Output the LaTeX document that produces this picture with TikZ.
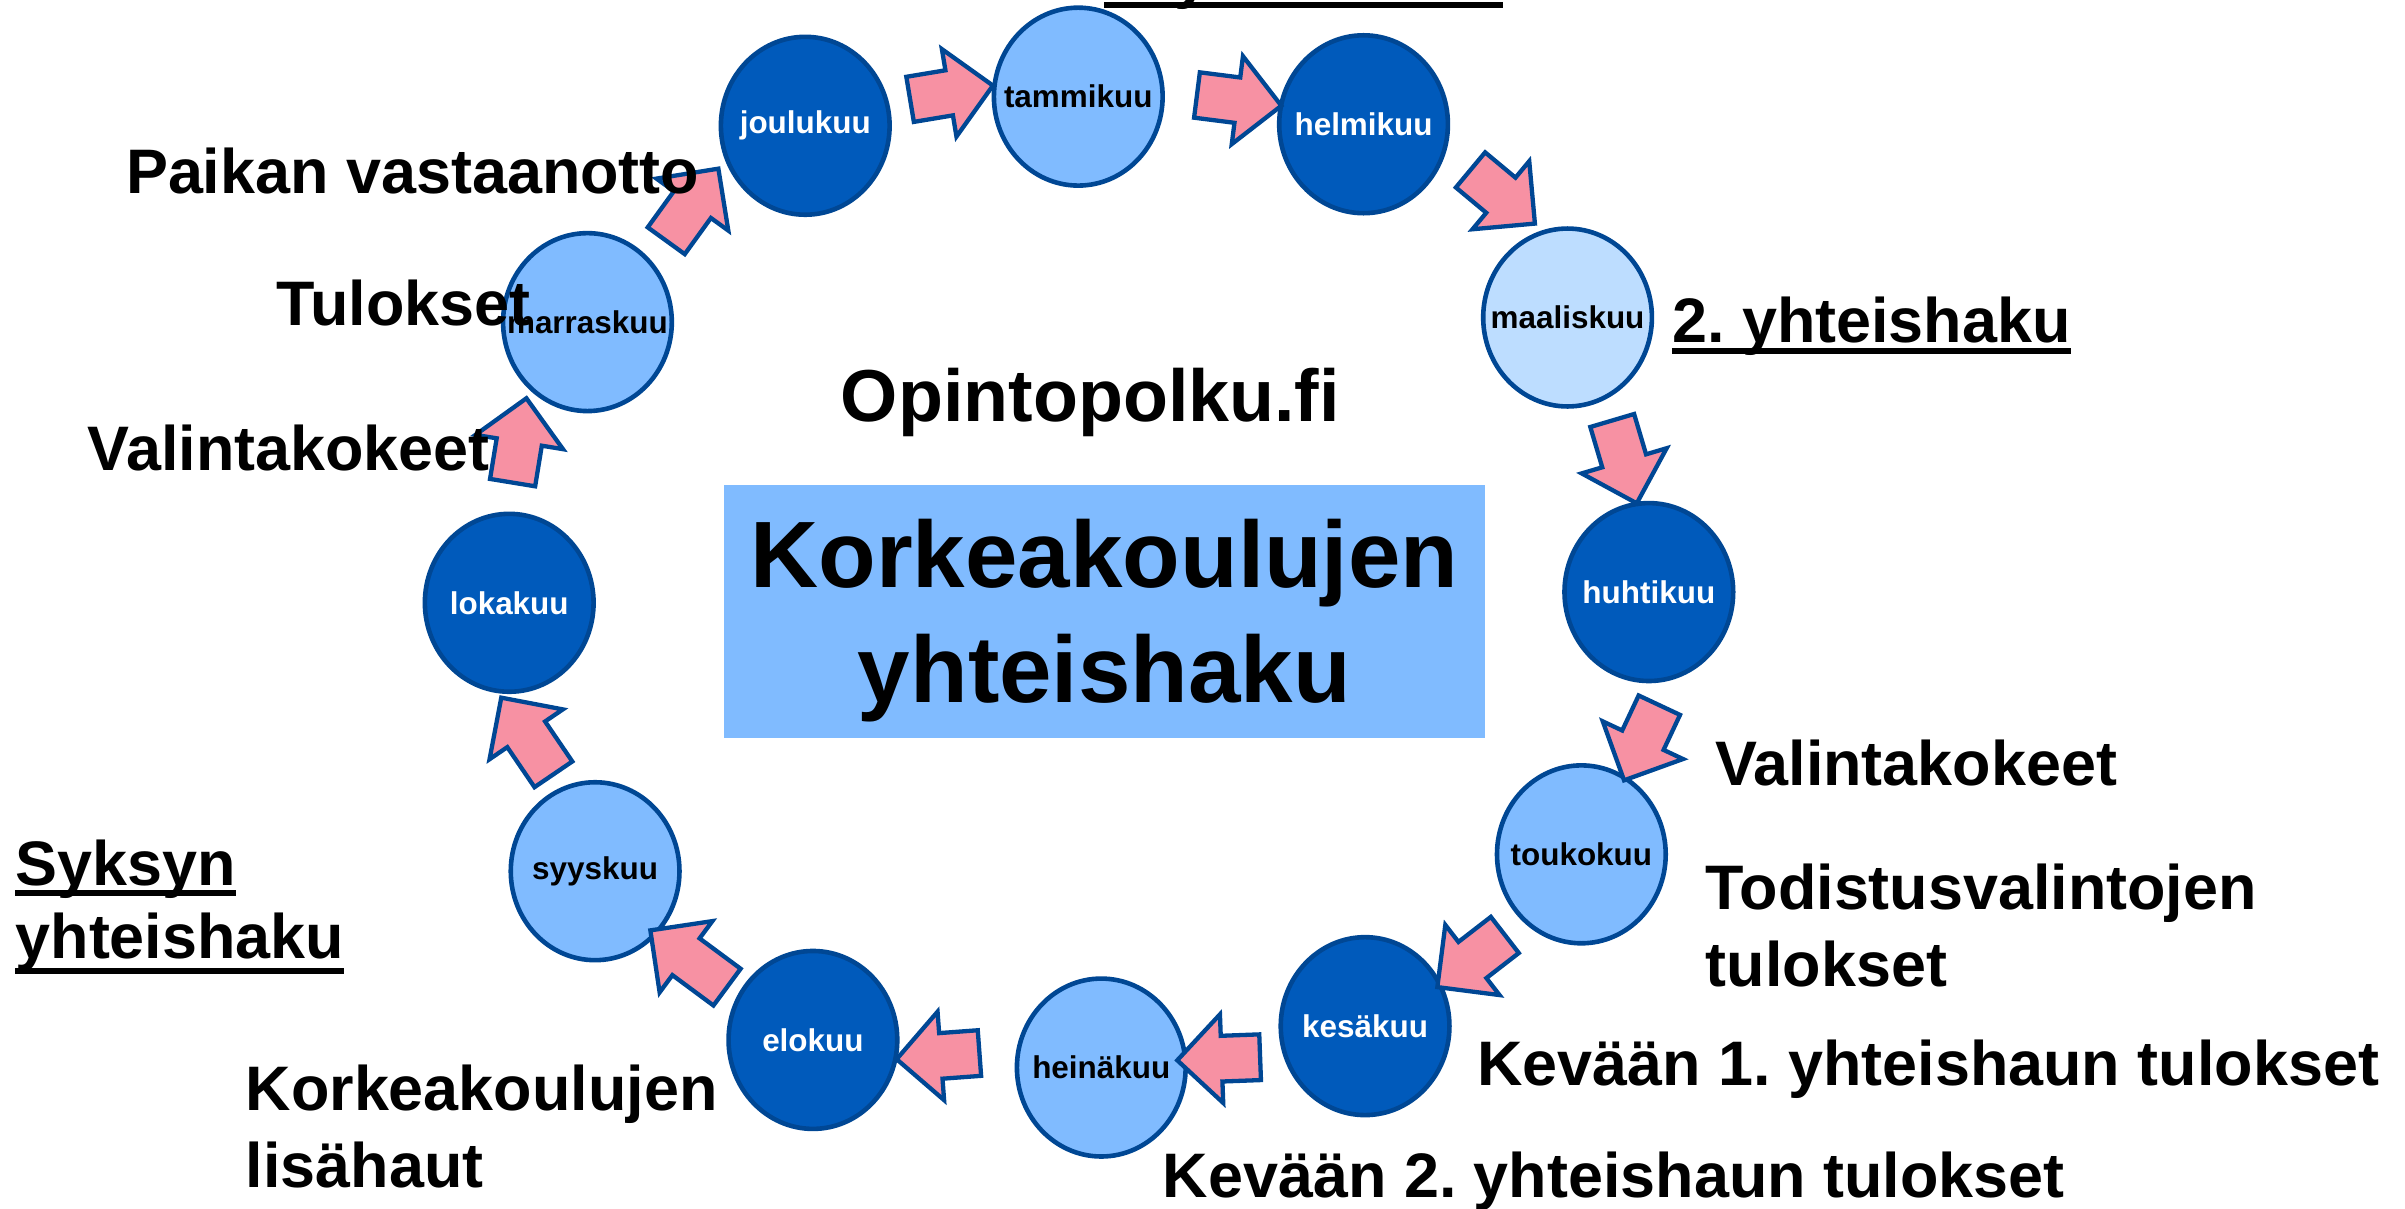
\documentclass[tikz,border=0pt]{standalone}
\usepackage{fontspec}
\setmainfont{Liberation Sans}
\frenchspacing
\usetikzlibrary{shapes.geometric,shapes.arrows,calc}
\definecolor{dkblue}{RGB}{0,90,187}
\definecolor{ltblue}{RGB}{128,187,255}
\definecolor{paleblue}{RGB}{189,221,255}
\definecolor{rim}{RGB}{0,71,148}
\definecolor{pinkf}{RGB}{247,145,163}
\newcommand\barrow[3]{\path let \p1=($(#3)-(#2)$), \n1={atan2(\y1,\x1)}, \n2={veclen(\x1,\y1)} in node[blockarrow, minimum height=\n2, rotate=\n1] (#1) at ($(#2)!0.5!(#3)$) {};}
\newcommand\mo[1]{\makebox[0pt]{#1}}
\tikzset{
  month/.style={ellipse, draw=rim, line width=3pt, minimum width=110, minimum height=116, inner sep=0,
    font=\bfseries\fontsize{20.5}{24}\selectfont},
  darkm/.style={month, fill=dkblue, text=white},
  lightm/.style={month, fill=ltblue, text=black},
  palem/.style={month, fill=paleblue, text=black},
  blockarrow/.style={single arrow, draw=rim, fill=pinkf, line width=2.8pt, inner xsep=0, inner ysep=13.5,
    single arrow head extend=14, single arrow tip angle=90, minimum width=1},
  lbl/.style={anchor=base west, inner sep=0, font=\bfseries\fontsize{41}{46}\selectfont},
  ul/.style={line width=4pt, line cap=butt},
}
\begin{document}
\begin{tikzpicture}[x=1pt,y=-1pt]
\useasboundingbox (0,0) rectangle (1568,788);
\clip (0,0) rectangle (1568,788);
% central box
\node[fill=ltblue, minimum width=496, minimum height=165, inner sep=0] (box) at (720,398.5) {};
\node[anchor=base, inner sep=0, font=\bfseries\fontsize{61.5}{70}\selectfont] (k1) at (720,383) {Korkeakoulujen};
\node[anchor=base, inner sep=0, font=\bfseries\fontsize{61.5}{70}\selectfont] (k2) at (720,458) {yhteishaku};
\node[anchor=base west, inner sep=0, font=\bfseries\fontsize{48}{54}\selectfont] (opf) at (548,275) {Opintopolku.fi};
% months
\node[darkm]  (jou) at (525,82)   {\mo{joulukuu}};
\node[lightm] (tam) at (703,63)   {\mo{tammikuu}};
\node[darkm]  (hel) at (889,81)   {\mo{helmikuu}};
\node[palem]  (maa) at (1022,207) {\mo{maaliskuu}};
\node[darkm]  (huh) at (1075,386) {\mo{huhtikuu}};
\node[lightm] (tou) at (1031,557) {\mo{toukokuu}};
\node[darkm]  (kes) at (890,669)  {\mo{kesäkuu}};
\node[lightm] (hei) at (718,696)  {\mo{heinäkuu}};
\node[darkm]  (elo) at (530,678)  {\mo{elokuu}};
\node[lightm] (syy) at (388,568)  {\mo{syyskuu}};
\node[darkm]  (lok) at (332,393)  {\mo{lokakuu}};
\node[lightm] (mar) at (383,210)  {\mo{marraskuu}};
% block arrows
\barrow{a1}{586,66}{640,57}
\barrow{a2}{773,61}{828,68}
\barrow{a3}{953,106}{995,141}
\barrow{a4}{1049,267}{1065,321}
\barrow{a5}{1085,453}{1062,502}
\barrow{a6}{987,605}{943,639}
\barrow{a7}{829,689}{775,691}
\barrow{a8}{646,686}{592,690}
\barrow{a9}{480,648}{430,611}
\barrow{a10}{365,511}{331,461}
\barrow{a11}{333,322}{342,267}
\barrow{a12}{430,163}{464,116}
% labels
\node[lbl] (top) at (720,-2) {1. yhteishaku};
\draw[ul] ([yshift=-5pt]top.base west) -- ([yshift=-5pt]top.base east);
\node[lbl] (paik) at (82,126) {Paikan vastaanotto};
\node[lbl] (tul) at (180,212) {Tulokset};
\node[lbl] (valL) at (57,307) {Valintakokeet};
\node[lbl] (y2) at (1090,223) {2. yhteishaku};
\draw[ul] ([yshift=-6pt]y2.base west) -- ([yshift=-6pt]y2.base east);
\node[lbl] (valR) at (1118,512) {Valintakokeet};
\node[lbl] (tod1) at (1112,593) {Todistusvalintojen};
\node[lbl] (tod2) at (1112,643) {tulokset};
\node[lbl] (kv1) at (963,708) {Kevään 1. yhteishaun tulokset};
\node[lbl] (kv2) at (758,781) {Kevään 2. yhteishaun tulokset};
\node[lbl] (kl1) at (160,724) {Korkeakoulujen};
\node[lbl] (kl2) at (160,774) {lisähaut};
\node[lbl] (sy1) at (10,577) {Syksyn};
\draw[ul] ([yshift=-5pt]sy1.base west) -- ([yshift=-5pt]sy1.base east);
\node[lbl] (sy2) at (10,625) {yhteishaku};
\draw[ul] ([yshift=-8pt]sy2.base west) -- ([yshift=-8pt]sy2.base east);
\end{tikzpicture}
\end{document}
